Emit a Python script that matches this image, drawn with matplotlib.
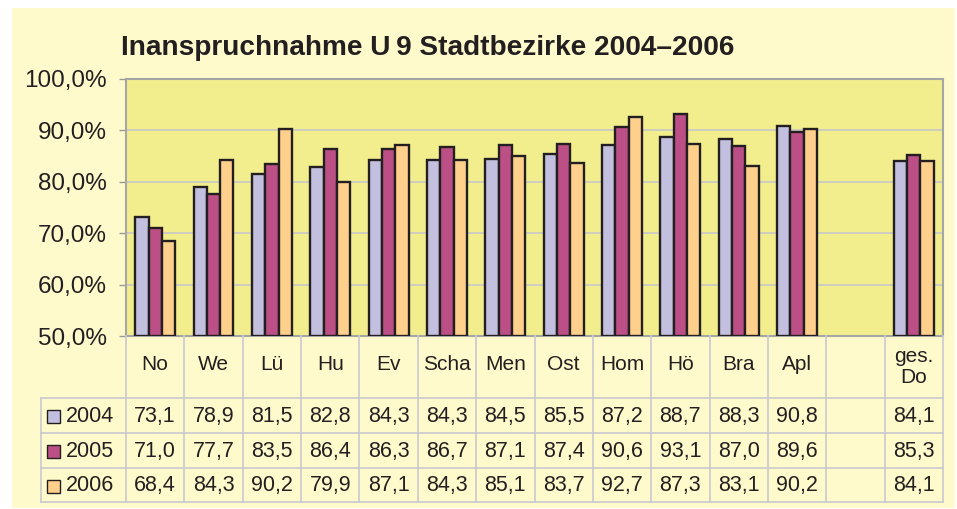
import matplotlib.pyplot as plt
import numpy as np

# ====== DONNÉES ======
categories = ["No", "We", "Lü", "Hu", "Ev", "Scha", "Men", "Ost", "Hom", "Hö", "Bra", "Apl", "", "ges.\nDo"]
years = ["2004", "2005", "2006"]
v2004 = [73.1, 78.9, 81.5, 82.8, 84.3, 84.3, 84.5, 85.5, 87.2, 88.7, 88.3, 90.8, None, 84.1]
v2005 = [71.0, 77.7, 83.5, 86.4, 86.3, 86.7, 87.1, 87.4, 90.6, 93.1, 87.0, 89.6, None, 85.3]
v2006 = [68.4, 84.3, 90.2, 79.9, 87.1, 84.3, 85.1, 83.7, 92.7, 87.3, 83.1, 90.2, None, 84.1]
yticks = [50, 60, 70, 80, 90, 100]

series = [v2004, v2005, v2006]
colors = ["#C3BFDE", "#BC4F86", "#FFCF8C"]

# ====== FIGURE ======
W, H = 957, 509
fig = plt.figure(figsize=(W / 100, H / 100), dpi=100)
fig.patch.set_facecolor("white")
plt.rcParams['font.family'] = ['Liberation Sans', 'DejaVu Sans']


def px_rect(x0, y0, x1, y1):
    return [x0 / W, 1 - y1 / H, (x1 - x0) / W, (y1 - y0) / H]


# fond du graphique
bg = fig.add_axes(px_rect(12, 8, 955, 508))
bg.set_facecolor("#FFFACC")
bg.set_xticks([])
bg.set_yticks([])
for s in bg.spines.values():
    s.set_visible(False)

fig.text(121 / W, 1 - 55 / H, "Inanspruchnahme U\u20099 Stadtbezirke 2004–2006",
         fontsize=20.2, fontweight='bold', color="#231F20", ha='left', va='baseline')

# ====== BARRES ======
n = len(categories)
ax = fig.add_axes(px_rect(126, 79, 943, 336))
ax.set_facecolor("#F2EE8E")
x = np.arange(n)
bw = 0.228
for i, (vals, c) in enumerate(zip(series, colors)):
    xs = [xi + (i - 1) * bw for xi, v in zip(x, vals) if v is not None]
    hs = [v - 50 for v in vals if v is not None]
    ax.bar(xs, hs, bottom=50, width=bw, color=c, edgecolor="#231F20",
           linewidth=1.7, zorder=3)

ax.set_xlim(-0.5, n - 0.5)
ax.set_ylim(50, 100)
ax.set_yticks(yticks)
ax.set_yticklabels([f"{t},0%" for t in yticks], fontsize=17.5, color="#231F20")
ax.tick_params(axis='y', length=5, width=1, color="#9A9A9A", pad=9)
ax.set_xticks([])
ax.grid(axis='y', color="#C8C8C8", linewidth=1.2, zorder=1)
for s in ax.spines.values():
    s.set_color("#A6A6A6")
    s.set_linewidth(1.5)

# ====== TABLEAU ======
left_px = 41
slot = (943 - 126) / n
tab = fig.add_axes(px_rect(left_px, 336, 943, 503))
tab.set_xlim(-0.5 - (126 - left_px) / slot, n - 0.5)
tab.set_ylim(503, 336)
tab.axis('off')
tab.patch.set_visible(False)

rows_y = [336, 398, 433, 468, 502]
grid_c = "#C9C9D0"
x_left = tab.get_xlim()[0]
# lignes horizontales
for yy in rows_y[1:]:
    tab.plot([x_left, n - 0.5], [yy, yy], color=grid_c, lw=1.2, clip_on=False)
# lignes verticales
for k in range(n + 1):
    tab.plot([k - 0.5, k - 0.5], [336, 502], color=grid_c, lw=1.2, clip_on=False)
tab.plot([x_left, x_left], [398, 502], color=grid_c, lw=1.2, clip_on=False)

# en-têtes
for k, cat in enumerate(categories):
    yy = 365 if "\n" not in cat else 367
    tab.text(k, yy, cat, fontsize=15, ha='center', va='center', color="#231F20",
             linespacing=1.15)

# lignes de valeurs
for r, (yr, vals, c) in enumerate(zip(years, series, colors)):
    yc = (rows_y[r + 1] + rows_y[r + 2]) / 2 + 1
    tab.add_patch(plt.Rectangle((x_left + 6 / slot, yc - 6), 13 / slot, 13,
                                facecolor=c, edgecolor="#231F20", lw=1, clip_on=False))
    tab.text(x_left + 25 / slot, yc, yr, fontsize=15.5, ha='left', va='center', color="#231F20")
    for k, v in enumerate(vals):
        if v is None:
            continue
        tab.text(k, yc, f"{v:.1f}".replace(".", ","), fontsize=15.5, ha='center',
                 va='center', color="#231F20")

fig.savefig("out.png", dpi=100, facecolor=fig.get_facecolor())
